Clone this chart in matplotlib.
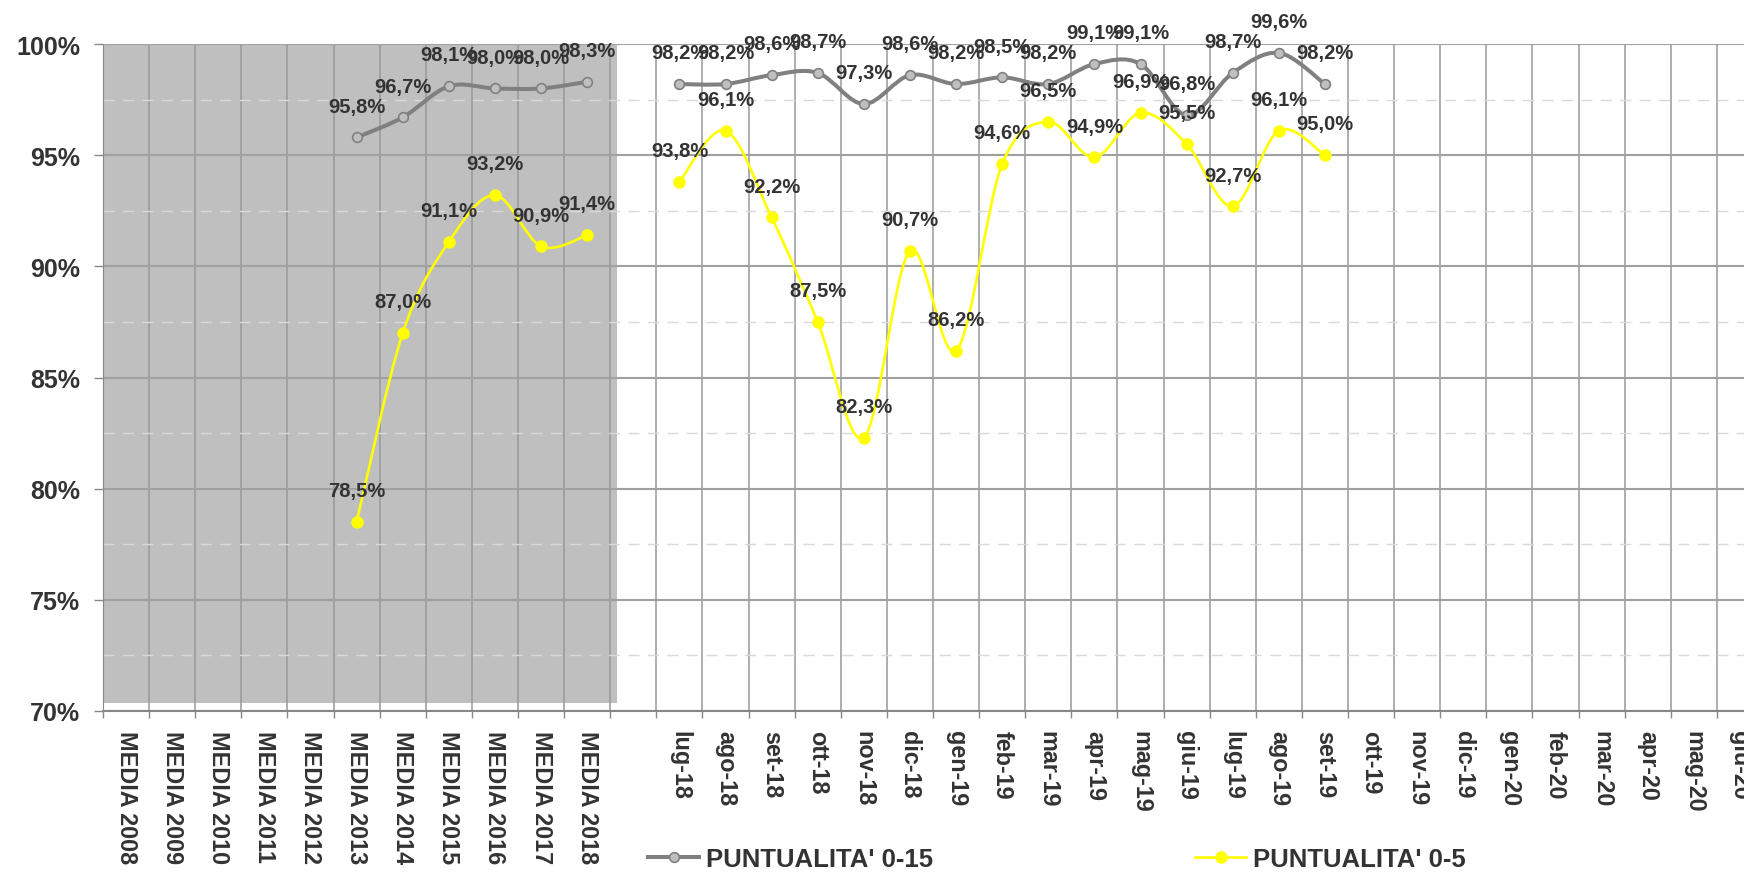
import numpy as np
import matplotlib
matplotlib.use("Agg")
import matplotlib.pyplot as plt
from matplotlib.lines import Line2D
from matplotlib.path import Path
from matplotlib.patches import PathPatch

plt.rcParams['font.family'] = ['Liberation Sans', 'DejaVu Sans']
plt.rcParams['font.weight'] = 'bold'

# ------- data
media_labels = ["MEDIA 2008", "MEDIA 2009", "MEDIA 2010", "MEDIA 2011", "MEDIA 2012", "MEDIA 2013",
                "MEDIA 2014", "MEDIA 2015", "MEDIA 2016", "MEDIA 2017", "MEDIA 2018"]
month_labels = ["lug-18", "ago-18", "set-18", "ott-18", "nov-18", "dic-18", "gen-19", "feb-19",
                "mar-19", "apr-19", "mag-19", "giu-19", "lug-19", "ago-19", "set-19", "ott-19",
                "nov-19", "dic-19", "gen-20", "feb-20", "mar-20", "apr-20", "mag-20", "giu-20"]
categories = media_labels + [""] + month_labels

p15_media = [None, None, None, None, None, 95.8, 96.7, 98.1, 98.0, 98.0, 98.3]
p15_months = [98.2, 98.2, 98.6, 98.7, 97.3, 98.6, 98.2, 98.5, 98.2, 99.1, 99.1, 96.8, 98.7, 99.6, 98.2]
p5_media = [None, None, None, None, None, 78.5, 87.0, 91.1, 93.2, 90.9, 91.4]
p5_months = [93.8, 96.1, 92.2, 87.5, 82.3, 90.7, 86.2, 94.6, 96.5, 94.9, 96.9, 95.5, 92.7, 96.1, 95.0]

n_empty = len(month_labels) - len(p15_months)
punt15 = p15_media + [None] + p15_months + [None] * n_empty
punt5 = p5_media + [None] + p5_months + [None] * n_empty

yticks = [70, 75, 80, 85, 90, 95, 100]

GREY_LINE = "#808080"
GREY_FILL = "#bfbfbf"
YELLOW = "#ffff00"
TEXT = "#333333"
GRID = "#a0a0a0"


def runs(values):
    # split a series into runs of consecutive non-missing values
    out, cur = [], []
    for i, v in enumerate(values):
        if v is None:
            if cur:
                out.append(cur)
            cur = []
        else:
            cur.append((i, v))
    if cur:
        out.append(cur)
    return out


def smooth_path(pts):
    pts = np.array(pts, dtype=float)
    n = len(pts)
    verts = [pts[0]]
    codes = [Path.MOVETO]
    for i in range(n - 1):
        p0 = pts[i - 1] if i > 0 else pts[i]
        p1 = pts[i]
        p2 = pts[i + 1]
        p3 = pts[i + 2] if i + 2 < n else pts[i + 1]
        verts += [p1 + (p2 - p0) / 6, p2 - (p3 - p1) / 6, p2]
        codes += [Path.CURVE4] * 3
    return Path(verts, codes)


fig = plt.figure(figsize=(17.44, 8.79), dpi=100)
ax = fig.add_axes([103 / 1744, 1 - 712 / 879, 1660 / 1744, (712 - 45) / 879])

N = len(categories)
ax.set_xlim(-0.5, N - 0.5)
ax.set_ylim(70, 100)

# grey background behind the yearly averages
ax.axvspan(-0.5, len(media_labels) - 0.35, ymin=0.012, ymax=1, color=GREY_FILL, lw=0, zorder=0.1)

ax.set_axisbelow(True)
ax.set_yticks(yticks)
ax.set_yticklabels([f"{v}%" for v in yticks])
ax.set_yticks([v + 2.5 for v in yticks[:-1]], minor=True)
ax.set_xticks(np.arange(N))
ax.set_xticklabels(categories, rotation=-90)
ax.set_xticks(np.arange(N + 1) - 0.5, minor=True)

ax.tick_params(axis='y', which='major', labelsize=18, labelcolor=TEXT, length=6.5, width=1, color="#888888", pad=10)
ax.tick_params(axis='y', which='minor', length=0)
ax.tick_params(axis='x', which='major', labelsize=16.8, labelcolor=TEXT, length=0, pad=14)
ax.tick_params(axis='x', which='minor', length=5, width=1, color="#888888")
for lab in ax.get_xticklabels():
    lab.set_va('top')

ax.grid(axis='y', which='major', color=GRID, lw=1.5)
ax.grid(axis='y', which='minor', color="#d9d9d9", lw=1, ls=(0, (8, 6)))
ax.grid(axis='x', which='minor', color="#999999", lw=1.1)
ax.grid(axis='x', which='major', visible=False)

for s in ["top", "right"]:
    ax.spines[s].set_visible(False)
ax.spines["left"].set_color("#888888")
ax.spines["bottom"].set_color("#888888")
ax.spines["bottom"].set_linewidth(1.5)

series = [
    (punt15, dict(color=GREY_LINE, lw=2.9), dict(ms=7, mfc=GREY_FILL, mec=GREY_LINE, mew=1.2)),
    (punt5, dict(color=YELLOW, lw=1.9), dict(ms=8, mfc=YELLOW, mec=YELLOW, mew=1)),
]

for values, lstyle, mstyle in series:
    for run in runs(values):
        patch = PathPatch(smooth_path(run), fill=False, edgecolor=lstyle["color"], lw=lstyle["lw"],
                          capstyle='round', joinstyle='round', zorder=3)
        ax.add_patch(patch)
        xs = [p[0] for p in run]
        ys = [p[1] for p in run]
        ax.plot(xs, ys, 'o', ls='none', zorder=4, clip_on=False, **mstyle)

for values, _, _ in series:
    for i, v in enumerate(values):
        if v is None:
            continue
        ax.annotate(f"{v:.1f}%".replace('.', ','), (i, v), xytext=(0, 22.5), textcoords='offset points',
                    ha='center', va='center', fontsize=14.5, fontweight='bold', color=TEXT,
                    zorder=6, annotation_clip=False)

handles = [
    Line2D([], [], color=GREY_LINE, lw=2.9, marker='o', ms=7, mfc=GREY_FILL, mec=GREY_LINE, mew=1.2,
           label="PUNTUALITA' 0-15"),
    Line2D([], [], color=YELLOW, lw=1.9, marker='o', ms=8, mfc=YELLOW, mec=YELLOW,
           label="PUNTUALITA' 0-5"),
]
fig.legend(handles=handles, loc='center left', bbox_to_anchor=(648 / 1744, 1 - 860 / 879), ncol=2,
           frameon=False, handlelength=2.0, handletextpad=0.25, columnspacing=10.2, borderpad=0,
           borderaxespad=0, labelcolor=TEXT, prop=dict(family='Liberation Sans', weight='bold', size=18.5))

fig.savefig("out.png", dpi=100)
